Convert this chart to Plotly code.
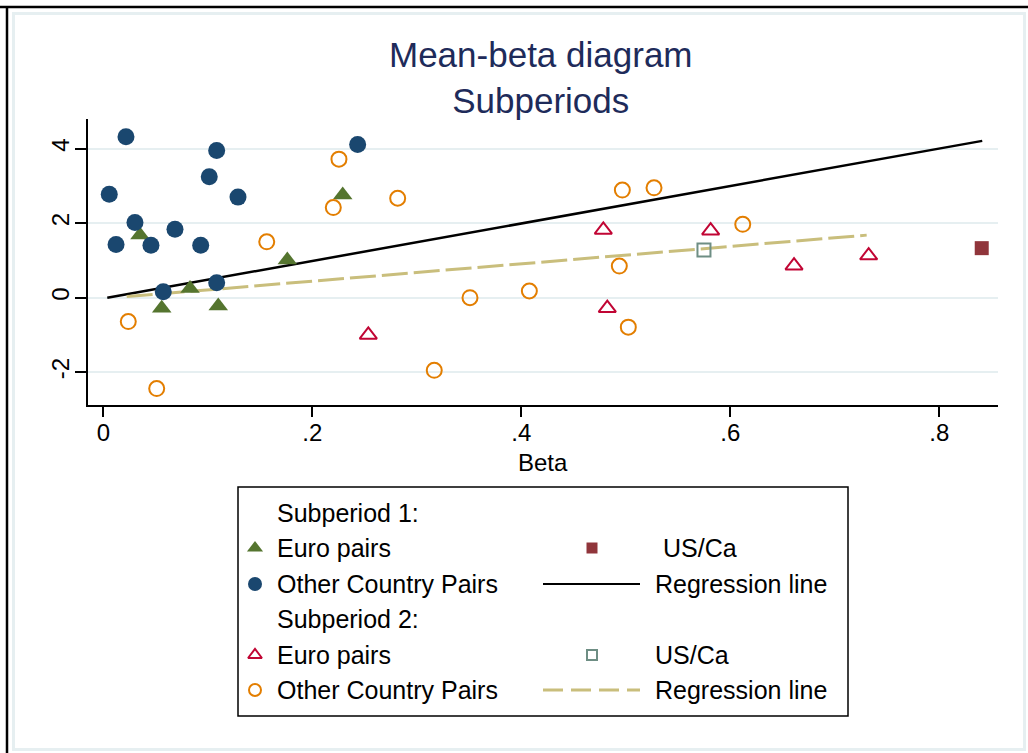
import plotly.graph_objects as go

# ---------------- data ----------------
s1_euro_beta = [0.0351, 0.0559, 0.0830, 0.1100, 0.1761, 0.2291]
s1_euro_mean = [1.68, -0.28, 0.25, -0.22, 1.01, 2.76]

s1_other_beta = [0.0217, 0.0057, 0.0303, 0.0122, 0.0456, 0.0686, 0.0932,
                 0.1014, 0.1085, 0.1289, 0.0574, 0.1085, 0.2434]
s1_other_mean = [4.32, 2.78, 2.02, 1.43, 1.41, 1.84, 1.41,
                 3.25, 3.95, 2.70, 0.16, 0.40, 4.11]

s1_usca_beta = [0.8406]
s1_usca_mean = [1.33]

s1_reg_beta = [0.0038, 0.8411]
s1_reg_mean = [0.00, 4.21]

s2_euro_beta = [0.2536, 0.4785, 0.4823, 0.5812, 0.6610, 0.7324]
s2_euro_mean = [-1.00, 1.82, -0.28, 1.80, 0.86, 1.13]

s2_other_beta = [0.0239, 0.0511, 0.1564, 0.2201, 0.2255, 0.2817, 0.3509,
                 0.3167, 0.4077, 0.4967, 0.5270, 0.4938, 0.5024, 0.6119]
s2_other_mean = [-0.64, -2.44, 1.50, 2.42, 3.72, 2.67, 0.00,
                 -1.95, 0.18, 2.89, 2.95, 0.85, -0.79, 1.97]

s2_usca_beta = [0.5748]
s2_usca_mean = [1.28]

s2_reg_beta = [0.0224, 0.7305]
s2_reg_mean = [0.03, 1.68]

x_tickvals = [0, 0.2, 0.4, 0.6, 0.8]
x_ticktext = ["0", ".2", ".4", ".6", ".8"]
y_tickvals = [-2, 0, 2, 4]
y_ticktext = ["-2", "0", "2", "4"]

title_text = "Mean-beta diagram<br>Subperiods"
x_title = "Beta"

legend_rows = [
    ("Subperiod 1:", None, None),
    ("Euro pairs", "US/Ca", "s1"),
    ("Other Country Pairs", "Regression line", "s1b"),
    ("Subperiod 2:", None, None),
    ("Euro pairs", "US/Ca", "s2"),
    ("Other Country Pairs", "Regression line", "s2b"),
]

# ---------------- styles ----------------
NAVY = "#1A476F"
GREEN = "#55752F"
MAROON = "#90353B"
ORANGE = "#E37E00"
CRAN = "#C10534"
TEAL = "#6E8E84"
KHAKI = "#C9BE7C"
GRID = "#E6EFF1"
FONT = "Liberation Sans, Arial, sans-serif"
TICKFONT = dict(family=FONT, size=24, color="black")

W, H = 1028, 753
# plot area in pixels
PL, PR, PT, PB = 88, 998, 119, 405
x0_px, x_scale = 103.3, 1045.0
y0_px, y_scale = 297.7, 37.25
xr = [(PL - x0_px) / x_scale, (PR - x0_px) / x_scale]
yr = [(y0_px - PB) / y_scale, (y0_px - PT) / y_scale]

fig = go.Figure()

mk_s1_euro = dict(symbol="triangle-up", size=17, color=GREEN, line=dict(width=0))
mk_s1_other = dict(symbol="circle", size=17, color=NAVY, line=dict(width=0))
mk_s1_usca = dict(symbol="square", size=14, color=MAROON, line=dict(width=0))
mk_s2_euro = dict(symbol="triangle-up-open", size=15, color=CRAN, line=dict(width=2, color=CRAN))
mk_s2_other = dict(symbol="circle-open", size=15, color=ORANGE, line=dict(width=2, color=ORANGE))
mk_s2_usca = dict(symbol="square-open", size=13, color=TEAL, line=dict(width=2, color=TEAL))

fig.add_trace(go.Scatter(x=s1_reg_beta, y=s1_reg_mean, mode="lines",
                         line=dict(color="black", width=2.5), showlegend=False))
fig.add_trace(go.Scatter(x=s2_reg_beta, y=s2_reg_mean, mode="lines",
                         line=dict(color=KHAKI, width=3, dash="26px,6px"), showlegend=False))

fig.add_trace(go.Scatter(x=s1_euro_beta, y=s1_euro_mean, mode="markers", marker=mk_s1_euro, showlegend=False))
fig.add_trace(go.Scatter(x=s1_other_beta, y=s1_other_mean, mode="markers", marker=mk_s1_other, showlegend=False))
fig.add_trace(go.Scatter(x=s1_usca_beta, y=s1_usca_mean, mode="markers", marker=mk_s1_usca, showlegend=False))
fig.add_trace(go.Scatter(x=s2_euro_beta, y=s2_euro_mean, mode="markers", marker=mk_s2_euro, showlegend=False))
fig.add_trace(go.Scatter(x=s2_other_beta, y=s2_other_mean, mode="markers", marker=mk_s2_other, showlegend=False))
fig.add_trace(go.Scatter(x=s2_usca_beta, y=s2_usca_mean, mode="markers", marker=mk_s2_usca, showlegend=False))

# ---------------- custom legend (pixel-based helper axes) ----------------
LX0, LX1, LY0, LY1 = 238, 848, 487, 716
row_y = [513, 548, 584, 619, 655, 690]
c1_mark, c1_text = 255, 275
c2_mark, c2_text = 592, 653
line_x = [543, 640]
LEGFONT = dict(size=25, color="black", family=FONT)

leg_markers = [
    (c1_mark, row_y[1], mk_s1_euro), (c2_mark, row_y[1], mk_s1_usca),
    (c1_mark, row_y[2], mk_s1_other),
    (c1_mark, row_y[4], mk_s2_euro), (c2_mark, row_y[4], mk_s2_usca),
    (c1_mark, row_y[5], mk_s2_other),
]
for lx, ly, mk in leg_markers:
    m = dict(mk)
    m["size"] = mk["size"] - 3
    fig.add_trace(go.Scatter(x=[lx], y=[ly], mode="markers", marker=m,
                             xaxis="x2", yaxis="y2", showlegend=False, hoverinfo="skip"))
fig.add_trace(go.Scatter(x=line_x, y=[row_y[2]] * 2, mode="lines", line=dict(color="black", width=2),
                         xaxis="x2", yaxis="y2", showlegend=False, hoverinfo="skip"))
fig.add_trace(go.Scatter(x=line_x, y=[row_y[5]] * 2, mode="lines",
                         line=dict(color=KHAKI, width=3, dash="20px,8px"),
                         xaxis="x2", yaxis="y2", showlegend=False, hoverinfo="skip"))

annotations = []
for (t1, t2, key), ry in zip(legend_rows, row_y):
    annotations.append(dict(x=c1_text, y=ry, xref="x2", yref="y2", text=t1, showarrow=False,
                            xanchor="left", yanchor="middle", font=LEGFONT))
    if t2:
        tx = c2_text + (8 if key == "s1" else 0)
        annotations.append(dict(x=tx, y=ry, xref="x2", yref="y2", text=t2, showarrow=False,
                                xanchor="left", yanchor="middle", font=LEGFONT))

# title (two lines)
annotations.append(dict(x=541 / W, y=1 - 77 / H, xref="paper", yref="paper", text=title_text,
                        showarrow=False, xanchor="center", yanchor="middle",
                        font=dict(size=35, color="#1E2B5A", family=FONT)))
# x-axis title
annotations.append(dict(x=(PL + PR) / 2 / W, y=1 - 462 / H, xref="paper", yref="paper", text=x_title,
                        showarrow=False, xanchor="center", yanchor="middle",
                        font=dict(size=24, color="black", family=FONT)))

shapes = [
    dict(type="rect", xref="paper", yref="paper", x0=13.5 / W, x1=1024.5 / W, y0=1 - 749.5 / H, y1=1 - 13.5 / H,
         line=dict(color=GRID, width=3), layer="below"),
    dict(type="line", xref="paper", yref="paper", x0=0, x1=1, y0=1 - 7 / H, y1=1 - 7 / H,
         line=dict(color="black", width=2.5)),
    dict(type="line", xref="paper", yref="paper", x0=7 / W, x1=7 / W, y0=0, y1=1 - 6 / H,
         line=dict(color="black", width=2.5)),
    dict(type="rect", xref="paper", yref="paper", x0=LX0 / W, x1=LX1 / W, y0=1 - LY1 / H, y1=1 - LY0 / H,
         line=dict(color="black", width=1.5)),
]

fig.update_layout(
    width=W, height=H,
    margin=dict(l=0, r=0, t=0, b=0),
    paper_bgcolor="white", plot_bgcolor="white",
    font=dict(family=FONT, color="black"),
    xaxis=dict(domain=[PL / W, PR / W], range=xr, autorange=False,
               tickmode="array", tickvals=x_tickvals, ticktext=x_ticktext,
               ticks="outside", ticklen=10, tickwidth=1.5,
               tickcolor="black", showline=True, linecolor="black", linewidth=1.5,
               showgrid=False, zeroline=False, tickfont=TICKFONT, ticklabelstandoff=-5,
               anchor="y"),
    yaxis=dict(domain=[1 - PB / H, 1 - PT / H], range=yr, autorange=False,
               tickmode="array", tickvals=y_tickvals, ticktext=y_ticktext,
               ticks="outside", ticklen=11, tickwidth=1.5,
               tickcolor="black", showline=True, linecolor="black", linewidth=1.5,
               showgrid=True, gridcolor=GRID, gridwidth=2, zeroline=False,
               tickangle=-90, tickfont=TICKFONT, ticklabelstandoff=-3, anchor="x"),
    xaxis2=dict(domain=[LX0 / W, LX1 / W], range=[LX0, LX1], autorange=False, visible=False,
                anchor="y2", fixedrange=True),
    yaxis2=dict(domain=[1 - LY1 / H, 1 - LY0 / H], range=[LY1, LY0], autorange=False, visible=False,
                anchor="x2", fixedrange=True),
    annotations=annotations,
    shapes=shapes,
    showlegend=False,
)

fig.write_html("out.html", config={"displayModeBar": False},
               post_script="document.body.style.margin='0';document.body.style.overflow='hidden';")
